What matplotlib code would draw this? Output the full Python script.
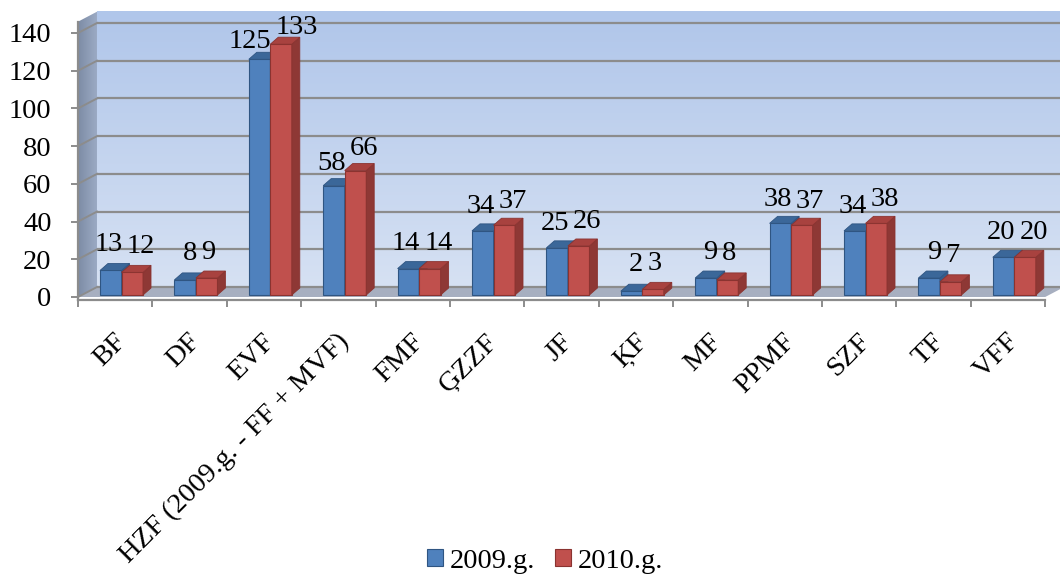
import numpy as np
import matplotlib
matplotlib.use("Agg")
import matplotlib.pyplot as plt
from matplotlib.patches import Polygon, Rectangle
from matplotlib.transforms import blended_transform_factory

# ---- data ----
categories = ["BF", "DF", "EVF", "HZF (2009.g. - FF + MVF)", "FMF", "ĢZZF", "JF",
              "ĶF", "MF", "PPMF", "SZF", "TF", "VFF"]
series_names = ["2009.g.", "2010.g."]
values_2009 = [13, 8, 125, 58, 14, 34, 25, 2, 9, 38, 34, 9, 20]
values_2010 = [12, 9, 133, 66, 14, 37, 26, 3, 8, 37, 38, 7, 20]
y_ticks = [0, 20, 40, 60, 80, 100, 120, 140]

# ---- styling / geometry ----
W, H, DPI = 1060, 575, 100
PX_X = 74.4          # pixels per category
PX_Y = 264 / 140     # pixels per value unit
X0_PX, Y0_PX = 78, 297
XMAX, YMIN, YMAX = 13.3, -1.6, 152
WALL_DX, WALL_DY = 19 / PX_X, 10 / PX_Y
WALL_H = 146
BAR_DX, BAR_DY = 8 / PX_X, 7 / PX_Y
BAR_BASE = 2 / PX_Y
BAR_W = 21.5 / PX_X
BAR_OFF = 22 / PX_X
FONT = "Liberation Serif"
FS = 20.5

blue_front, blue_top, blue_side, blue_edge = "#4f81bd", "#3b6799", "#345d8c", "#2f5582"
red_front, red_top, red_side, red_edge = "#c0504d", "#a8423f", "#8e3835", "#8a3330"
grid_c = "#8c8c8c"

fig = plt.figure(figsize=(W / DPI, H / DPI), dpi=DPI)
ax_bottom_px = Y0_PX - YMIN * PX_Y
ax_top_px = Y0_PX - YMAX * PX_Y
ax = fig.add_axes([X0_PX / W, (H - ax_bottom_px) / H,
                   XMAX * PX_X / W, (ax_bottom_px - ax_top_px) / H])
ax.set_xlim(0, XMAX)
ax.set_ylim(YMIN, YMAX)
ax.patch.set_visible(False)

# back wall gradient
grad = np.linspace(0, 1, 256).reshape(-1, 1)
top_c = np.array([176, 198, 234]) / 255
bot_c = np.array([214, 225, 243]) / 255
img = bot_c[None, None, :] * (1 - grad[:, :, None]) + top_c[None, None, :] * grad[:, :, None]
ax.imshow(img, extent=[WALL_DX, XMAX, WALL_DY, WALL_DY + WALL_H], origin="lower",
          aspect="auto", zorder=0)

# left wall
lw_poly = Polygon([(0, 0), (WALL_DX, WALL_DY), (WALL_DX, WALL_DY + WALL_H), (0, WALL_H)],
                  closed=True, facecolor="none", edgecolor="none")
ax.add_patch(lw_poly)
hgrad = np.linspace(0, 1, 64).reshape(1, -1)
lc0 = np.array([125, 140, 165]) / 255
lc1 = np.array([155, 170, 196]) / 255
limg = lc0[None, None, :] * (1 - hgrad[:, :, None]) + lc1[None, None, :] * hgrad[:, :, None]
im2 = ax.imshow(limg, extent=[0, WALL_DX, 0, WALL_DY + WALL_H], origin="lower",
                aspect="auto", zorder=0.5)
im2.set_clip_path(lw_poly)

# floor
floor = Polygon([(0, 0), (13, 0), (13 + WALL_DX, WALL_DY), (WALL_DX, WALL_DY)],
                closed=True, facecolor="#a7afc0", edgecolor="none", zorder=0.6)
ax.add_patch(floor)

# gridlines on back wall and left wall
for g in y_ticks:
    ax.plot([WALL_DX, XMAX], [g + WALL_DY, g + WALL_DY], color=grid_c, lw=1.6, zorder=0.8,
            solid_capstyle="butt")
    ax.plot([0, WALL_DX], [g, g + WALL_DY], color=grid_c, lw=1.4, zorder=0.8)

# bars
x = np.arange(len(categories))
specs = [(values_2009, BAR_OFF, blue_front, blue_top, blue_side, blue_edge, "right"),
         (values_2010, BAR_OFF + BAR_W, red_front, red_top, red_side, red_edge, "left")]
handles = []
for vals, off, fc, tc, sc, ec, ha in specs:
    bars = ax.bar(x + off, vals, width=BAR_W, bottom=BAR_BASE, align="edge",
                  color=fc, edgecolor=ec, linewidth=0.8, zorder=2)
    handles.append(Rectangle((0, 0), 1, 1, facecolor=fc, edgecolor=ec, linewidth=0.8))
    for b, v in zip(bars, vals):
        x0, y0 = b.get_x(), b.get_y()
        x1, y1 = x0 + b.get_width(), y0 + b.get_height()
        side = Polygon([(x1, y0), (x1 + BAR_DX, y0 + BAR_DY), (x1 + BAR_DX, y1 + BAR_DY), (x1, y1)],
                       closed=True, facecolor=sc, edgecolor=ec, linewidth=0.6, zorder=2)
        top = Polygon([(x0, y1), (x0 + BAR_DX, y1 + BAR_DY), (x1 + BAR_DX, y1 + BAR_DY), (x1, y1)],
                      closed=True, facecolor=tc, edgecolor=ec, linewidth=0.6, zorder=2)
        ax.add_patch(side)
        ax.add_patch(top)
        dy_px = 20 - 0.07 * v
        if ha == "right":
            ax.annotate(str(v), xy=(x1, y1), xytext=(1 * 0.72, dy_px * 0.72),
                        textcoords="offset points", ha="right", va="baseline",
                        fontsize=FS, family=FONT, zorder=5)
        else:
            ax.annotate(str(v), xy=(x0, y1), xytext=(5 * 0.72, dy_px * 0.72),
                        textcoords="offset points", ha="left", va="baseline",
                        fontsize=FS, family=FONT, zorder=5)

# axes lines & ticks
for s in ["top", "right"]:
    ax.spines[s].set_visible(False)
ax.spines["left"].set_bounds(YMIN, WALL_H)
ax.spines["bottom"].set_bounds(0, 13)
for s in ["left", "bottom"]:
    ax.spines[s].set_color(grid_c)
    ax.spines[s].set_linewidth(1.6)
ax.set_yticks(y_ticks)
ax.set_yticklabels([str(t) for t in y_ticks], fontsize=FS, family=FONT)
ax.tick_params(axis="y", length=5, width=1.4, color=grid_c, pad=14)
ax.set_xticks(np.arange(0, 14))
ax.set_xticklabels([])
ax.tick_params(axis="x", length=5, width=1.4, color=grid_c)

tr = blended_transform_factory(ax.transData, ax.transAxes)
lab_y = -(329 - ax_bottom_px) / (ax_bottom_px - ax_top_px)
for i, c in enumerate(categories):
    ax.text(i + 0.5 - 2 / PX_X, lab_y, c, transform=tr, rotation=45, rotation_mode="anchor",
            ha="right", va="top", fontsize=FS, family=FONT)

leg = fig.legend(handles, series_names, loc="center", bbox_to_anchor=(545 / W, 1 - 561 / H),
                 ncol=2, frameon=False, prop={"family": FONT, "size": FS},
                 handlelength=0.55, handleheight=0.55, handletextpad=0.25, columnspacing=0.7,
                 borderpad=0)

fig.savefig("out.png", dpi=DPI)
